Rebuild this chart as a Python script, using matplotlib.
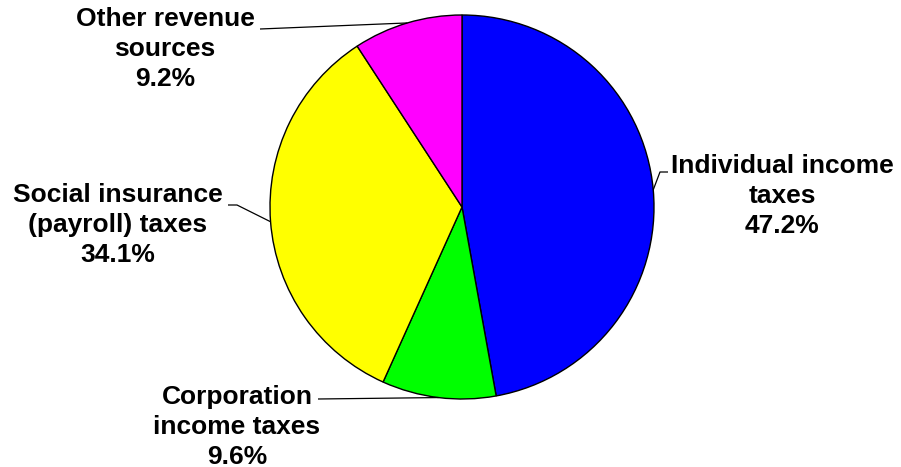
import numpy as np
import matplotlib.pyplot as plt

# Federal revenue shares by source
labels = ["Individual income\ntaxes", "Corporation\nincome taxes",
          "Social insurance\n(payroll) taxes", "Other revenue\nsources"]
shares = [47.2, 9.6, 34.1, 9.2]
colors = ["#0000FF", "#00FF00", "#FFFF00", "#FF00FF"]

W, H = 901, 467
fig = plt.figure(figsize=(W / 100, H / 100), dpi=100)
ax = fig.add_axes([0, 0, 1, 1])

cx, cy, r = 462, H - 207, 192
wedges, _ = ax.pie(shares, colors=colors, startangle=90, counterclock=False,
                   center=(cx, cy), radius=r, frame=True,
                   wedgeprops=dict(edgecolor="black", linewidth=1.0))
ax.set_xlim(0, W)
ax.set_ylim(0, H)
ax.set_aspect("equal")
ax.axis("off")

# label block centre, elbow points of the leader line (pixels from top-left)
label_pos = [(782, 196), (237, 427), (118, 225), (165, 49)]
elbows = [[(668, 172), (660, 172)],
          [(318, 399)],
          [(228, 205), (237, 205)],
          [(260, 29)]]

font = dict(family="Liberation Sans", fontweight="bold", fontsize=19)
for w, lab, val, (tx, ty), pts in zip(wedges, labels, shares, label_pos, elbows):
    mid = np.deg2rad((w.theta1 + w.theta2) / 2)
    ex, ey = cx + r * np.cos(mid), cy + r * np.sin(mid)
    xs = [p[0] for p in pts] + [ex]
    ys = [H - p[1] for p in pts] + [ey]
    ax.plot(xs, ys, color="black", linewidth=0.9, solid_capstyle="butt")
    ax.text(tx, H - ty, f"{lab}\n{val:.1f}%", ha="center", va="center",
            linespacing=1.3, **font)

fig.savefig("out.png", dpi=100)
